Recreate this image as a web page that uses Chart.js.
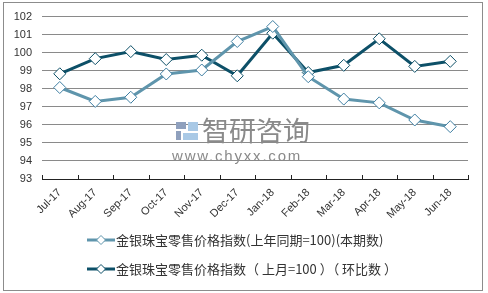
<!DOCTYPE html>
<html>
<head>
<meta charset="utf-8">
<script src="https://cdn.jsdelivr.net/npm/chart.js@4"></script>
<style>
  html, body { margin: 0; padding: 0; background: #fff; }
  #wrap { width: 488px; height: 293px; position: relative; }
</style>
</head>
<body>
<div id="wrap"><canvas id="chart" width="488" height="293"></canvas></div>
<script>
// Categories and series
const months = ['Jul-17', 'Aug-17', 'Sep-17', 'Oct-17', 'Nov-17', 'Dec-17',
                'Jan-18', 'Feb-18', 'Mar-18', 'Apr-18', 'May-18', 'Jun-18'];
const yoyValues = [98.07, 97.3, 97.53, 98.82, 99.04, 100.62, 101.45, 98.67, 97.43, 97.22, 96.27, 95.9];
const momValues = [98.83, 99.67, 100.06, 99.62, 99.86, 98.72, 101.08, 98.9, 99.3, 100.77, 99.24, 99.52];
const yoyLabel = '金银珠宝零售价格指数(上年同期=100)(本期数)';
const momLabel = '金银珠宝零售价格指数（ 上月=100 ）（ 环比数 ）';
const yTicks = [93, 94, 95, 96, 97, 98, 99, 100, 101, 102];

const lightColor = '#5f95ac';
const darkColor = '#0d5068';

// Frame, watermark, upward x ticks and the legend
const decorPlugin = {
    id: 'decor',
    beforeDraw(chart) {
        const ctx = chart.ctx;
        ctx.save();
        ctx.fillStyle = '#fff';
        ctx.fillRect(0, 0, chart.width, chart.height);
        ctx.strokeStyle = '#8c8c8c';
        ctx.lineWidth = 1;
        ctx.strokeRect(3.5, 2.5, 479, 288);
        ctx.restore();
    },
    beforeDatasetsDraw(chart) {
        const ctx = chart.ctx;
        ctx.save();
        // logo blocks
        ctx.fillStyle = '#8fa0bd';
        ctx.fillRect(176, 122, 10, 7);
        ctx.fillRect(176, 131, 5, 9);
        ctx.fillStyle = '#a9c9e6';
        ctx.fillRect(188, 122, 10, 9);
        ctx.fillRect(183, 133, 15, 7);
        ctx.fillStyle = '#8a8a8a';
        ctx.font = '27px "Noto Sans CJK SC"';
        ctx.textBaseline = 'middle';
        ctx.fillText('智研咨询', 202, 131);
        ctx.font = '15px "Liberation Sans"';
        ctx.letterSpacing = '1.8px';
        ctx.fillText('www.chyxx.com', 172, 157);
        ctx.restore();
    },
    afterDraw(chart) {
        const ctx = chart.ctx;
        const x = chart.scales.x;
        const bottom = chart.chartArea.bottom;
        ctx.save();
        ctx.strokeStyle = '#222';
        ctx.lineWidth = 1;
        const step = (x.right - x.left) / months.length;
        for (let k = 0; k <= months.length; k++) {
            const px = Math.round(x.left + k * step) + 0.5;
            ctx.beginPath();
            ctx.moveTo(px, bottom);
            ctx.lineTo(px, bottom - 4);
            ctx.stroke();
        }
        // legend
        const items = [[yoyLabel, lightColor, 240], [momLabel, darkColor, 269]];
        items.forEach(([label, color, y]) => {
            ctx.strokeStyle = color;
            ctx.lineWidth = 3;
            ctx.beginPath();
            ctx.moveTo(87, y);
            ctx.lineTo(115, y);
            ctx.stroke();
            ctx.fillStyle = '#fff';
            ctx.lineWidth = 1;
            ctx.beginPath();
            ctx.moveTo(101, y - 4.5);
            ctx.lineTo(105.5, y);
            ctx.lineTo(101, y + 4.5);
            ctx.lineTo(96.5, y);
            ctx.closePath();
            ctx.fill();
            ctx.stroke();
            ctx.fillStyle = '#333';
            ctx.font = '13px "Noto Sans CJK SC"';
            ctx.textBaseline = 'middle';
            ctx.fillText(label, 116, y);
        });
        ctx.restore();
    }
};

new Chart(document.getElementById('chart'), {
    type: 'line',
    data: {
        labels: months,
        datasets: [{
            label: yoyLabel,
            data: yoyValues,
            borderColor: lightColor,
            borderWidth: 3,
            pointStyle: 'rectRot',
            pointRadius: 6,
            pointBackgroundColor: '#fff',
            pointBorderColor: '#3f7fa3',
            pointBorderWidth: 1,
            tension: 0
        }, {
            label: momLabel,
            data: momValues,
            borderColor: darkColor,
            borderWidth: 3,
            pointStyle: 'rectRot',
            pointRadius: 6,
            pointBackgroundColor: '#fff',
            pointBorderColor: darkColor,
            pointBorderWidth: 1,
            tension: 0
        }]
    },
    options: {
        responsive: false,
        animation: false,
        events: [],
        layout: { padding: { top: 15, right: 20, left: 0, bottom: 0 } },
        plugins: {
            legend: { display: false },
            tooltip: { enabled: false }
        },
        scales: {
            x: {
                offset: true,
                grid: { display: false, drawTicks: false },
                border: { display: true, color: '#222', width: 1 },
                ticks: {
                    color: '#333',
                    font: { family: '"Liberation Sans"', size: 11 },
                    minRotation: 45,
                    maxRotation: 45,
                    padding: 7
                },
                afterFit(scale) { scale.height = 114; }
            },
            y: {
                min: 93,
                max: 102,
                afterBuildTicks(scale) { scale.ticks = yTicks.map(v => ({ value: v })); },
                grid: { color: '#8a8a8a', drawTicks: false },
                border: { display: false },
                ticks: {
                    color: '#333',
                    font: { family: '"Liberation Sans"', size: 11 },
                    padding: 10
                },
                afterFit(scale) { scale.width = 42; }
            }
        }
    },
    plugins: [decorPlugin]
});
</script>
</body>
</html>
